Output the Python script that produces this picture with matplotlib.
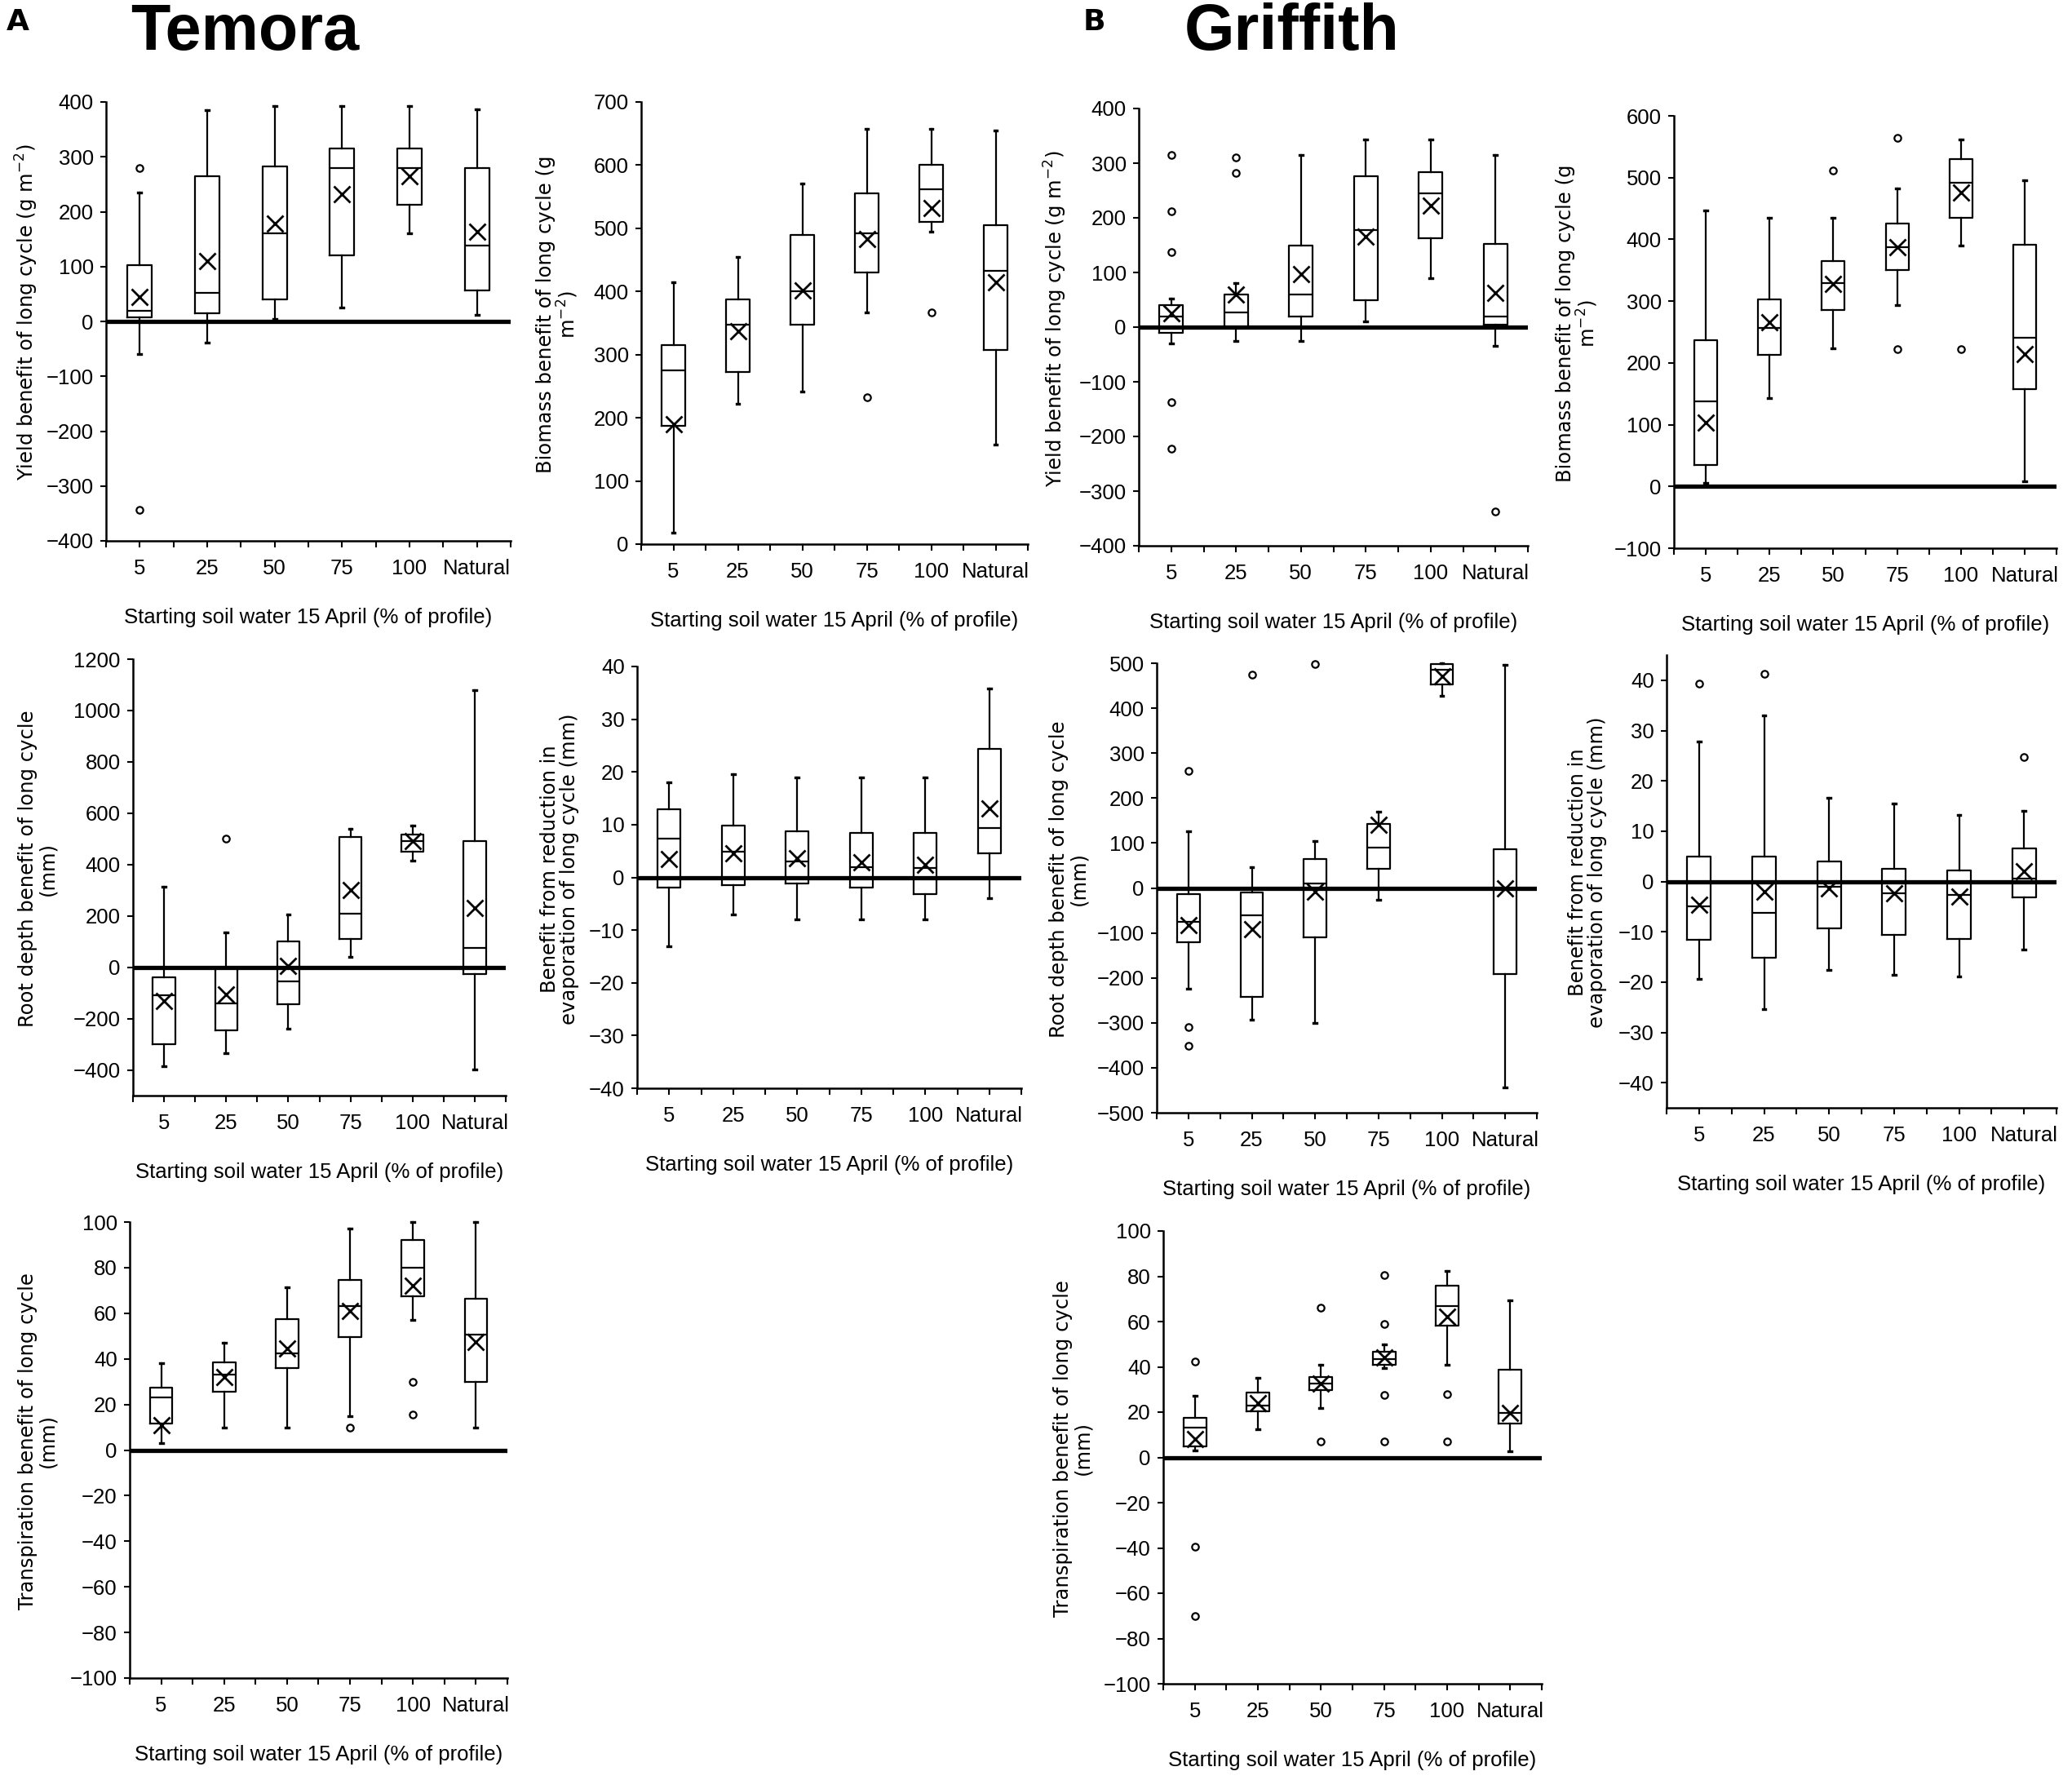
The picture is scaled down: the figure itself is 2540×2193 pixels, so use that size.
import matplotlib.pyplot as plt
from matplotlib import font_manager

categories = ['5', '25', '50', '75', '100', 'Natural']
xlabel_text = 'Starting soil water 15 April (% of profile)'

# each row: whisker low, Q1, median, Q3, whisker high, mean
temora_yield = [
    [-60, 8, 20, 103, 235, 45],
    [-38, 15, 52, 265, 385, 110],
    [5, 40, 160, 282, 393, 179],
    [25, 120, 280, 315, 393, 232],
    [160, 213, 279, 315, 393, 265],
    [12, 57, 138, 280, 387, 163],
]
temora_yield_out = [[280, -343], [], [], [], [], []]

temora_biomass = [
    [18, 187, 275, 315, 415, 190],
    [222, 272, 347, 387, 455, 337],
    [242, 347, 400, 489, 571, 402],
    [367, 430, 492, 555, 657, 483],
    [495, 510, 562, 600, 657, 532],
    [158, 307, 433, 505, 655, 415],
]
temora_biomass_out = [[], [], [], [233], [367], []]

temora_root = [
    [-385, -300, -110, -40, 315, -130],
    [-335, -245, -140, 0, 135, -105],
    [-240, -145, -55, 100, 205, 4],
    [40, 110, 210, 508, 538, 300],
    [415, 450, 490, 518, 552, 490],
    [-398, -25, 75, 492, 1078, 230],
]
temora_root_out = [[], [500], [], [], [], []]

temora_evap = [
    [-13, -2, 7.4, 12.9, 18, 3.5],
    [-7, -1.5, 4.8, 9.8, 19.5, 4.5],
    [-8, -1.1, 3, 8.8, 19, 3.6],
    [-8, -2, 1.9, 8.5, 19, 2.9],
    [-8, -3.1, 1.8, 8.5, 19, 2.4],
    [-4, 4.5, 9.3, 24.3, 35.8, 13],
]
temora_evap_out = [[], [], [], [], [], []]

temora_transp = [
    [3, 11.5, 23, 27.5, 38, 11],
    [10, 25.5, 33, 38.5, 47, 32],
    [10, 36, 42.5, 57.5, 71.5, 44.5],
    [15, 49.5, 63, 74.5, 97, 61],
    [57, 67.5, 80, 92, 100, 72],
    [10, 30, 50.5, 66.5, 100, 47.5],
]
temora_transp_out = [[], [], [], [10], [30, 15.5], []]

griffith_yield = [
    [-30, -10, 20, 40, 52, 25],
    [-25, 0, 27, 60, 80, 60],
    [-25, 20, 60, 150, 315, 97],
    [10, 50, 178, 276, 343, 166],
    [90, 162, 245, 283, 343, 223],
    [-35, 5, 20, 152, 315, 63],
]
griffith_yield_out = [[315, 212, 137, -138, -223], [310, 282], [], [], [], [-337]]

griffith_biomass = [
    [5, 35, 138, 237, 447, 104],
    [143, 213, 256, 303, 435, 266],
    [223, 286, 329, 365, 435, 328],
    [294, 350, 388, 426, 482, 387],
    [390, 435, 492, 530, 562, 476],
    [8, 158, 241, 391, 495, 214],
]
griffith_biomass_out = [[], [], [511], [564, 222], [222], [-338]]

griffith_root = [
    [-225, -120, -75, -14, 127, -83],
    [-294, -243, -60, -10, 46, -92],
    [-301, -110, 10, 65, 104, -8],
    [-26, 42, 90, 143, 170, 140],
    [428, 452, 486, 498, 500, 471],
    [-443, -191, 0, 87, 496, 0],
]
griffith_root_out = [[260, -310, -352], [474], [498], [], [], []]

griffith_evap = [
    [-19.4, -11.6, -5, 4.9, 27.8, -4.6],
    [-25.3, -15.1, -6.2, 4.9, 33, -2.1],
    [-17.6, -9.3, -1, 3.9, 16.6, -1.3],
    [-18.5, -10.6, -2.4, 2.5, 15.5, -2.3],
    [-18.9, -11.4, -2.6, 2.2, 13.2, -3],
    [-13.6, -3.1, 0.5, 6.6, 14, 2],
]
griffith_evap_out = [[39.4], [41.3], [], [], [], [24.8]]

griffith_transp = [
    [3, 5, 13, 17.3, 27.3, 8],
    [12.3, 20.3, 22.8, 28.5, 35, 24],
    [21.8, 29.8, 32.5, 35.5, 40.8, 32.5],
    [39.3, 40.8, 43.3, 46.8, 50, 44],
    [40.8, 58.3, 66.8, 75.8, 82.5, 62],
    [2.8, 15, 19.8, 38.7, 69.5, 19.5],
]
griffith_transp_out = [[42.5, -39.5, -70], [], [66, 7], [80.5, 59, 27.5, 7], [28, 7], []]

W, H = 2540, 2193

avail = {f.name for f in font_manager.fontManager.ttflist}
narrow = 'Liberation Sans Narrow' if 'Liberation Sans Narrow' in avail else 'Liberation Sans'

fig = plt.figure(figsize=(W / 100, H / 100), dpi=100)
fig.patch.set_facecolor('white')


def px_axes(x0, x1, y0, y1):
    # pixel box (left, right, top, bottom) -> figure axes
    return fig.add_axes([x0 / W, 1 - y1 / H, (x1 - x0) / W, (y1 - y0) / H])


def draw_panel(rect, rows, outliers, ylim, yticks, ylabel, label_off, zero_line=True):
    ax = px_axes(*rect)
    stats = []
    for row, out in zip(rows, outliers):
        lo, q1, med, q3, hi, mean = row
        stats.append(dict(whislo=lo, q1=q1, med=med, q3=q3, whishi=hi, mean=mean, fliers=out))
    parts = ax.bxp(stats, positions=range(1, 7), widths=0.36, showmeans=True, showcaps=True,
                   boxprops=dict(color='black', linewidth=1.6),
                   medianprops=dict(color='black', linewidth=1.6),
                   whiskerprops=dict(color='black', linewidth=1.6),
                   capprops=dict(color='black', linewidth=2.4),
                   capwidths=0.05,
                   meanprops=dict(marker='x', markersize=15, markeredgecolor='black',
                                  markeredgewidth=2),
                   flierprops=dict(marker='o', markersize=6, markerfacecolor='none',
                                   markeredgecolor='black', markeredgewidth=1.6))
    for arts in parts.values():
        for a in arts:
            a.set_clip_on(False)
    if zero_line:
        ax.axhline(0, color='black', linewidth=3.8, zorder=5)
    ax.set_xlim(0.5, 6.5)
    ax.set_ylim(*ylim)
    ax.set_yticks(yticks)
    ax.set_xticks(range(1, 7))
    ax.set_xticklabels(categories)
    ax.set_xticks([i + 0.5 for i in range(0, 7)], minor=True)
    for s in ['top', 'right']:
        ax.spines[s].set_visible(False)
    for s in ['left', 'bottom']:
        ax.spines[s].set_linewidth(1.8)
    ax.tick_params(axis='x', which='both', direction='out', length=6, width=1.5, pad=10)
    ax.tick_params(axis='y', direction='out', length=5, width=1.5, pad=6)
    for lab in ax.get_xticklabels() + ax.get_yticklabels():
        lab.set_fontfamily(narrow)
        lab.set_fontsize(18.5)
    ax.set_xlabel(xlabel_text, fontfamily=narrow, fontsize=18.5, labelpad=26)
    ax.set_ylabel(ylabel, fontsize=17.5, linespacing=1.0, va='center')
    ax.yaxis.set_label_coords(-label_off / (rect[1] - rect[0]), 0.52)
    return ax


draw_panel((130, 626, 125, 663), temora_yield, temora_yield_out, (-400, 400),
           range(-400, 401, 100), 'Yield benefit of long cycle (g m$^{-2}$)', 97)
draw_panel((786, 1260, 125, 667), temora_biomass, temora_biomass_out, (0, 700),
           range(0, 701, 100), 'Biomass benefit of long cycle (g\nm$^{-2}$)', 102,
           zero_line=False)
draw_panel((163, 620, 808, 1343), temora_root, temora_root_out, (-500, 1200),
           range(-400, 1201, 200), 'Root depth benefit of long cycle\n(mm)', 117)
draw_panel((781, 1252, 817, 1334), temora_evap, temora_evap_out, (-40, 40),
           range(-40, 41, 10), 'Benefit from reduction in\nevaporation of long cycle (mm)', 95)
draw_panel((159, 622, 1498, 2057), temora_transp, temora_transp_out, (-100, 100),
           range(-100, 101, 20), 'Transpiration benefit of long cycle\n(mm)', 113)

draw_panel((1396, 1873, 133, 669), griffith_yield, griffith_yield_out, (-400, 400),
           range(-400, 401, 100), 'Yield benefit of long cycle (g m$^{-2}$)', 102)
draw_panel((2052, 2521, 142, 672), griffith_biomass, griffith_biomass_out, (-100, 600),
           range(-100, 601, 100), 'Biomass benefit of long cycle (g\nm$^{-2}$)', 118)
draw_panel((1418, 1884, 813, 1364), griffith_root, griffith_root_out, (-500, 500),
           range(-500, 501, 100), 'Root depth benefit of long cycle\n(mm)', 108)
draw_panel((2043, 2521, 803, 1358), griffith_evap, griffith_evap_out, (-45, 45),
           range(-40, 41, 10), 'Benefit from reduction in\nevaporation of long cycle (mm)', 97)
draw_panel((1426, 1890, 1509, 2064), griffith_transp, griffith_transp_out, (-100, 100),
           range(-100, 101, 20), 'Transpiration benefit of long cycle\n(mm)', 111)

# panel letters and site titles
fig.text(8 / W, 1 - 10 / H, 'A', fontsize=26, fontweight='bold', va='top', ha='left')
fig.text(160 / W, 1 - 3 / H, 'Temora', fontsize=57, fontweight='bold', fontfamily=narrow,
         va='top', ha='left')
fig.text(1328 / W, 1 - 10 / H, 'B', fontsize=26, fontweight='bold', va='top', ha='left')
fig.text(1452 / W, 1 - 3 / H, 'Griffith', fontsize=57, fontweight='bold', fontfamily=narrow,
         va='top', ha='left')

fig.savefig('out.png', dpi=100, facecolor='white')
